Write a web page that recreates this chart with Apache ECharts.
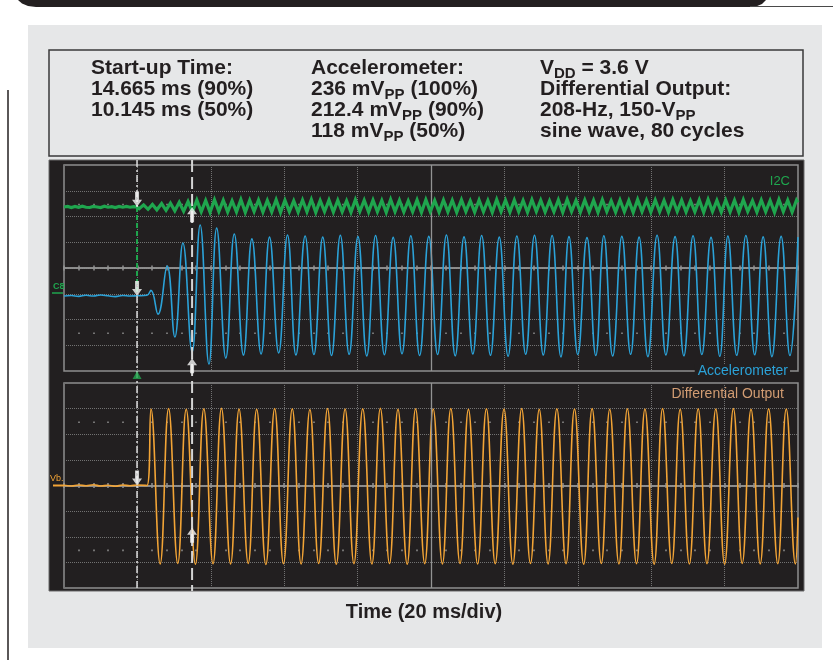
<!DOCTYPE html>
<html><head><meta charset="utf-8">
<script src="https://cdn.jsdelivr.net/npm/echarts@6/dist/echarts.min.js"></script>
<style>html,body{margin:0;padding:0;background:#fff;}#c{width:833px;height:660px;}</style>
</head><body><div id="c"></div>
<script>
// ---- axes (time in ms, 20 ms/div; vertical in screen divisions) ----
const timeMin = 0, timeMax = 200, timeStep = 20;
const divMin = -4, divMax = 4, divStep = 1;
const dotRows = [2.5, -2.5];
const cursorTimes = [19.9, 34.9];

// ---- traces ----
const i2cData = [
[0,2.37],[1,2.39],[2,2.35],[3,2.39],[4,2.36],[5,2.40],[6,2.36],[7,2.35],[8,2.39],[9,2.37],[10,2.35],[11,2.40],[12,2.36],[13,2.38],[14,2.35],[15,2.39],[16,2.36],[17,2.39],[18,2.36],[19,2.38],[19.9,2.37],
[20.5,2.30],[21.7,2.45],[22.9,2.28],[24.1,2.47],[25.3,2.26],[26.6,2.50],[27.8,2.24],[29.0,2.52],[30.2,2.22],[31.4,2.55],[32.6,2.20],[33.8,2.58],[35.0,2.18],
[36.2,2.64],[37.4,2.18],[38.6,2.62],[39.8,2.16],[41.0,2.65],[42.2,2.19],[43.4,2.63],[44.6,2.17],[45.8,2.61],[47.0,2.18],[48.2,2.66],[49.4,2.16],[50.6,2.63],[51.8,2.19],[53.0,2.64],[54.2,2.17],[55.4,2.62],[56.6,2.18],[57.8,2.65],[59.0,2.16],[60.2,2.63],[61.4,2.19],[62.6,2.61],[63.8,2.17],[65.0,2.64],[66.2,2.18],[67.4,2.66],[68.6,2.16],[69.8,2.62],[71.0,2.19],[72.2,2.64],[73.4,2.17],[74.6,2.63],[75.8,2.18],[77.0,2.61],[78.2,2.16],[79.4,2.65],[80.6,2.19],[81.8,2.63],[83.0,2.17],[84.2,2.64],[85.4,2.18],[86.6,2.62],[87.8,2.16],[89.0,2.66],[90.2,2.19],[91.4,2.63],[92.6,2.17],[93.8,2.61],[95.0,2.18],[96.2,2.64],[97.4,2.16],[98.6,2.65],[99.8,2.19],
[101.0,2.62],[102.2,2.17],[103.4,2.64],[104.6,2.18],[105.8,2.63],[107.0,2.16],[108.3,2.65],[109.5,2.19],[110.7,2.61],[111.9,2.17],[113.1,2.64],[114.3,2.18],[115.5,2.62],[116.7,2.16],[117.9,2.66],[119.1,2.19],[120.3,2.63],[121.5,2.17],[122.7,2.64],[123.9,2.18],[125.1,2.62],[126.3,2.16],[127.5,2.65],[128.7,2.19],[129.9,2.63],[131.1,2.17],[132.3,2.61],[133.5,2.18],[134.7,2.64],[135.9,2.16],[137.1,2.66],[138.3,2.19],[139.5,2.62],[140.7,2.17],[141.9,2.64],[143.1,2.18],[144.3,2.63],[145.5,2.16],[146.7,2.65],[147.9,2.19],[149.1,2.61],[150.3,2.17],
[151.5,2.64],[152.7,2.18],[153.9,2.62],[155.1,2.16],[156.3,2.66],[157.5,2.19],[158.7,2.63],[159.9,2.17],[161.1,2.64],[162.3,2.18],[163.5,2.62],[164.7,2.16],[165.9,2.65],[167.1,2.19],[168.3,2.63],[169.5,2.17],[170.7,2.61],[171.9,2.18],[173.1,2.64],[174.3,2.16],[175.5,2.66],[176.7,2.19],[177.9,2.62],[179.1,2.17],[180.3,2.64],[181.5,2.18],[182.7,2.63],[183.9,2.16],[185.1,2.65],[186.3,2.19],[187.6,2.61],[188.8,2.17],[190.0,2.64],[191.2,2.18],[192.4,2.62],[193.6,2.16],[194.8,2.66],[196.0,2.19],[197.2,2.63],[198.4,2.17],[199.6,2.64],[200,2.55]
];
const accelData = [
[0,-1.09],[2,-1.07],[4,-1.10],[6,-1.06],[8,-1.09],[10,-1.05],[12,-1.08],[14,-1.11],[16,-1.07],[18,-1.09],[20,-1.08],[22.6,-1.06],
[23.7,-0.87],[25.6,-1.79],[28.1,0.08],[30.2,-2.68],[32.4,0.97],[34.9,-3.26],[37.1,1.67],[39.5,-3.73],[41.6,1.55],[44.1,-3.50],[46.4,1.32],[48.9,-3.38],[51.2,1.13],[53.7,-3.34],[56.0,1.20],[58.5,-3.30],[60.9,1.28],[63.2,-3.38],
[65.7,1.24],[68.1,-3.36],[70.5,1.20],[72.9,-3.40],[75.3,1.27],[77.7,-3.35],[80.1,1.22],[82.5,-3.42],[84.9,1.26],[87.3,-3.37],[89.7,1.19],[92.1,-3.33],[94.5,1.25],[96.9,-3.40],[99.4,1.23],[101.8,-3.36],[104.2,1.28],[106.6,-3.41],[109.0,1.21],[111.4,-3.34],[113.8,1.26],[116.2,-3.39],[118.6,1.20],[121.0,-3.43],[123.4,1.24],[125.8,-3.35],[128.2,1.27],[130.6,-3.38],
[133.0,1.26],[135.4,-3.45],[137.6,1.22],[140.0,-3.36],[142.5,1.18],[144.9,-3.40],[147.1,1.25],[149.5,-3.42],[152.0,1.23],[154.4,-3.35],[156.7,1.20],[159.1,-3.44],[161.6,1.27],[164.0,-3.38],[166.5,1.22],[168.9,-3.41],[171.4,1.25],[173.8,-3.36],[176.3,1.19],[178.7,-3.43],[180.9,1.24],[183.3,-3.39],[185.8,1.26],[188.2,-3.37],[190.5,1.21],[192.9,-3.44],[195.4,1.23],[197.8,-3.40],[200.0,1.20]
];
const diffData = [
[0,0.01],[2,-0.02],[4,0.02],[6,-0.01],[8,0.03],[10,-0.02],[12,0.01],[14,-0.03],[16,0.02],[18,-0.01],[20,0.02],[22.6,0.0],
[23.7,2.98],[26.2,-3.06],[28.5,3.00],[31.0,-3.04],[33.3,2.97],[35.8,-3.07],[38.1,2.99],[40.6,-3.05],[42.9,3.01],[45.4,-3.06],[47.7,2.98],[50.2,-3.04],[52.5,2.97],[55.0,-3.08],[57.4,3.00],[59.8,-3.05],[62.2,2.99],[64.6,-3.06],[67.0,2.96],[69.4,-3.04],[71.8,3.00],[74.2,-3.07],[76.6,2.98],[79.0,-3.05],[81.4,2.99],[83.9,-3.06],[86.2,3.01],[88.7,-3.04],[91.0,2.97],[93.5,-3.07],[95.8,2.99],[98.3,-3.05],
[100.6,2.98],[103.1,-3.06],[105.4,3.00],[107.9,-3.04],[110.2,2.97],[112.7,-3.06],[115.1,2.99],[117.5,-3.05],[119.9,2.98],[122.3,-3.07],[124.7,3.00],[127.1,-3.04],[129.5,2.97],[131.9,-3.06],[134.3,2.99],[136.8,-3.05],[139.1,2.98],[141.6,-3.07],[143.9,3.00],[146.4,-3.04],[148.7,2.97],[151.2,-3.06],[153.5,2.99],[156.0,-3.05],[158.3,2.98],[160.8,-3.07],[163.1,3.00],[165.6,-3.04],[167.9,2.97],[170.4,-3.06],[172.8,2.99],[175.2,-3.05],[177.6,2.98],[180.0,-3.07],[182.4,3.00],[184.8,-3.04],[187.2,2.97],[189.7,-3.06],[192.0,2.99],[194.5,-3.05],[196.8,2.98],[199.3,-3.06],[200,-1.25]
];
const csEdge = [[19.9,2.37],[19.9,-1.09]];
const topArrowsDown = [[19.9,2.38],[19.9,-1.09]];
const topArrowsUp = [[34.9,2.36],[34.9,-3.50]];
const botArrowsDown = [[19.9,0.0]];
const botArrowsUp = [[34.9,-1.65]];
const triggerMark = [[19.9,-4.16]];

// ---- texts ----
const infoCol1 = ['Start-up Time:', '14.665 ms (90%)', '10.145 ms (50%)'];
const infoCol2 = ['Accelerometer:', '236 mV{s|PP}{a| (100%)}', '212.4 mV{s|PP}{a| (90%)}', '118 mV{s|PP}{a| (50%)}'];
const infoCol3 = ['V{s|DD}{a| = 3.6 V}', 'Differential Output:', '208-Hz, 150-V{s|PP}', 'sine wave, 80 cycles'];
const xTitle = 'Time (20 ms/div)';

const GREEN = '#1fa64e', BLUE = '#2ba2d8', ORANGE = '#f2a436', GRAT = '#727272', CENTER = '#939393';
const FONT = '"Liberation Sans", Arial, sans-serif';

function xAxesFor(g, yMain) {
  const base = {type:'value', gridIndex:g, min:timeMin, max:timeMax, interval:timeStep, axisLabel:{show:false}, splitLine:{show:false}};
  const centre = (pos) => Object.assign({}, base, {position:pos,
    axisLine:{show:true, onZero:true, onZeroAxisIndex:yMain, lineStyle:{color:CENTER, width:1.5}},
    axisTick:{show:true, length:2.5, inside:false, lineStyle:{color:CENTER, width:1.5}},
    minorTick:{show:true, splitNumber:5, length:2.5, lineStyle:{color:CENTER, width:1.5}}});
  const dots = (yi) => Object.assign({}, base, {position:'bottom',
    axisLine:{show:true, onZero:true, onZeroAxisIndex:yi, lineStyle:{color:'rgba(0,0,0,0)', width:1}},
    axisTick:{show:false},
    minorTick:{show:true, splitNumber:5, length:1.6, lineStyle:{color:'#8a8a8a', width:1.6}}});
  return [
    Object.assign({}, base, {axisLine:{show:false}, axisTick:{show:false},
      splitLine:{show:true, lineStyle:{color:GRAT, width:1, type:[1,1]}}}),
    centre('top'), centre('bottom'), dots(yMain+1), dots(yMain+2)
  ];
}
function yAxesFor(g) {
  return [
    {type:'value', gridIndex:g, min:divMin, max:divMax, interval:divStep, axisLine:{show:false}, axisTick:{show:false}, axisLabel:{show:false},
      splitLine:{show:true, lineStyle:{color:GRAT, width:1, type:[1,1]}}},
    {type:'value', gridIndex:g, min:divMin-dotRows[0], max:divMax-dotRows[0], show:false},
    {type:'value', gridIndex:g, min:divMin-dotRows[1], max:divMax-dotRows[1], show:false}
  ];
}

const ARROW_DOWN = 'path://M3,0L7,0L7,8L10,8L5,15L0,8L3,8Z';
const ARROW_UP = 'path://M5,0L10,7L7,7L7,15L3,15L3,7L0,7Z';
function arrowSeries(xi, yi, down, up) {
  const data = down.map(p => ({value:p, symbol:ARROW_DOWN, symbolOffset:[0,'-50%']}))
    .concat(up.map(p => ({value:p, symbol:ARROW_UP, symbolOffset:[0,'50%']})));
  return {type:'scatter', xAxisIndex:xi, yAxisIndex:yi, data:data, symbolSize:[10,15], clip:false, silent:true,
    itemStyle:{color:'#f6f6f6'}, z:20};
}
const centreV = {silent:true, symbol:['none','none'], label:{show:false}, lineStyle:{color:CENTER, width:1.3, type:'solid'}, data:[{xAxis:100}]};

const rich = {a:{fontSize:21, fontWeight:'bold', fontFamily:FONT, fill:'#231f20', color:'#231f20'},
              s:{fontSize:15, fontWeight:'bold', fontFamily:FONT, fill:'#231f20', color:'#231f20', padding:[12,0,0,0]}};
function richLine(id, x, y, t) {
  const i = t.indexOf('{');
  const txt = i < 0 ? '{a|' + t + '}' : '{a|' + t.slice(0, i) + '}' + t.slice(i);
  return {id:id, type:'text', x:x, y:y, z:10,
    style:{text:txt, rich:rich, fill:'#231f20', font:'bold 21px ' + FONT, align:'left', verticalAlign:'middle', textAlign:'left', textVerticalAlign:'middle'}};
}
const rowY = [68, 89, 110, 131];
const infoEls = [];
infoCol1.forEach((t,i) => infoEls.push(richLine('c1_'+i, 91, rowY[i], t)));
infoCol2.forEach((t,i) => infoEls.push(richLine('c2_'+i, 311, rowY[i], t)));
infoCol3.forEach((t,i) => infoEls.push(richLine('c3_'+i, 540, rowY[i], t)));

function label(id, x, y, text, color, size, align, extra) {
  return Object.assign({id:id, type:'text', x:x, y:y, z:30,
    style:Object.assign({text:text, fill:color, fontSize:size, fontFamily:FONT, align:align, verticalAlign:'middle', textAlign:align, textVerticalAlign:'middle'}, extra || {})});
}

const staticEls = [
  {id:'bar', type:'polygon', z:-10, shape:{points:[[18,0],[766,0],[762,4],[756,6.5],[750,7],[36,7],[28,6],[22,3.5]]}, style:{fill:'#231f20'}},
  {id:'barline', type:'line', z:-10, shape:{x1:750,y1:6.5,x2:833,y2:6.5}, style:{stroke:'#4a4a4a', lineWidth:1}},
  {id:'leftline', type:'line', z:-10, shape:{x1:8,y1:90,x2:8,y2:660}, style:{stroke:'#231f20', lineWidth:1.5}},
  {id:'panel', type:'rect', z:-10, shape:{x:28,y:25,width:794,height:623}, style:{fill:'#e6e7e8'}},
  {id:'infobox', type:'rect', z:-9, shape:{x:49,y:50,width:754,height:106}, style:{fill:'#e6e7e8', stroke:'#3a3a3a', lineWidth:1.5}},
  {id:'screen', type:'rect', z:-9, shape:{x:49,y:160,width:755,height:431}, style:{fill:'#221f20', stroke:'#6a6a6a', lineWidth:1}},
  label('i2c', 790, 181, 'I2C', GREEN, 13, 'right'),
  label('acc', 790, 371, 'Accelerometer', BLUE, 14, 'right', {backgroundColor:'#221f20', padding:[0,2,0,3]}),
  label('dif', 784, 394, 'Differential Output', '#d29c72', 14, 'right'),
  label('c8', 53, 287, 'C8', GREEN, 9, 'left', {fontWeight:'bold'}),
  {id:'c8line', type:'line', z:30, shape:{x1:52,y1:293,x2:63,y2:293}, style:{stroke:GREEN, lineWidth:1.5}},
  label('vb', 50, 479, 'Vb.', ORANGE, 9, 'left'),
  {id:'vbline', type:'line', z:30, shape:{x1:53,y1:485.5,x2:64,y2:485.5}, style:{stroke:ORANGE, lineWidth:2}},
  {id:'xtitle', type:'text', x:424, y:612, z:10, style:{text:xTitle, fill:'#231f20', font:'bold 20px ' + FONT, fontSize:20, fontWeight:'bold', fontFamily:FONT, align:'center', verticalAlign:'middle', textAlign:'center', textVerticalAlign:'middle'}}
].concat(infoEls);

const option = {
  animation:false,
  backgroundColor:'#ffffff',
  grid:[
    {left:64, top:165, width:734, height:206, show:true, borderColor:'#8e8e8e', borderWidth:1.5, backgroundColor:'rgba(0,0,0,0)', containLabel:false, outerBoundsMode:'none'},
    {left:64, top:383, width:734, height:205, show:true, borderColor:'#8e8e8e', borderWidth:1.5, backgroundColor:'rgba(0,0,0,0)', containLabel:false, outerBoundsMode:'none'}
  ],
  xAxis: xAxesFor(0, 0).concat(xAxesFor(1, 3)),
  yAxis: yAxesFor(0).concat(yAxesFor(1)),
  series:[
    {name:'grat0', type:'line', xAxisIndex:0, yAxisIndex:0, data:[[100,0]], symbol:'none', lineStyle:{opacity:0}, silent:true, z:1, markLine:centreV},
    {name:'grat1', type:'line', xAxisIndex:5, yAxisIndex:3, data:[[100,0]], symbol:'none', lineStyle:{opacity:0}, silent:true, z:1, markLine:centreV},
    {name:'CS', type:'line', xAxisIndex:0, yAxisIndex:0, data:csEdge, symbol:'none', silent:true, z:3,
      lineStyle:{color:GREEN, width:2, type:[5,3]}},
    {name:'Accelerometer', type:'line', xAxisIndex:0, yAxisIndex:0, data:accelData, symbol:'none', smooth:0.45, silent:true, z:4,
      lineStyle:{color:BLUE, width:1.6}},
    {name:'I2C', type:'line', xAxisIndex:0, yAxisIndex:0, data:i2cData, symbol:'none', silent:true, z:5,
      lineStyle:{color:GREEN, width:3.2, join:'miter'}},
    {name:'Differential Output', type:'line', xAxisIndex:5, yAxisIndex:3, data:diffData, symbol:'none', smooth:0.45, silent:true, z:4,
      lineStyle:{color:ORANGE, width:1.6}},
    arrowSeries(0, 0, topArrowsDown, topArrowsUp),
    arrowSeries(5, 3, botArrowsDown, botArrowsUp),
    {type:'scatter', xAxisIndex:0, yAxisIndex:0, data:triggerMark, symbol:'triangle', symbolSize:[9,8], clip:false, silent:true,
      itemStyle:{color:'#22a84f'}, z:20}
  ],
  graphic:{elements:staticEls}
};

const chart = echarts.init(document.getElementById('c'), null, {renderer:'canvas'});
chart.setOption(option);

const xA = chart.convertToPixel({xAxisIndex:0}, cursorTimes[0]);
const xB = chart.convertToPixel({xAxisIndex:0}, cursorTimes[1]);
const yG = chart.convertToPixel({yAxisIndex:0}, csEdge[0][1]);
const yBl = chart.convertToPixel({yAxisIndex:0}, csEdge[1][1]);
chart.setOption({graphic:{elements:[
  {id:'curA1', type:'line', z:15, shape:{x1:xA,y1:160,x2:xA,y2:yG}, style:{stroke:'#dedede', lineWidth:1.5, lineDash:[7,3,2,3]}},
  {id:'curA2', type:'line', z:15, shape:{x1:xA,y1:yBl,x2:xA,y2:591}, style:{stroke:'#dedede', lineWidth:1.5, lineDash:[7,3,2,3]}},
  {id:'curB', type:'line', z:15, shape:{x1:xB,y1:160,x2:xB,y2:591}, style:{stroke:'#d4d4d4', lineWidth:2, lineDash:[12,5]}}
]}});
</script>
</body></html>
